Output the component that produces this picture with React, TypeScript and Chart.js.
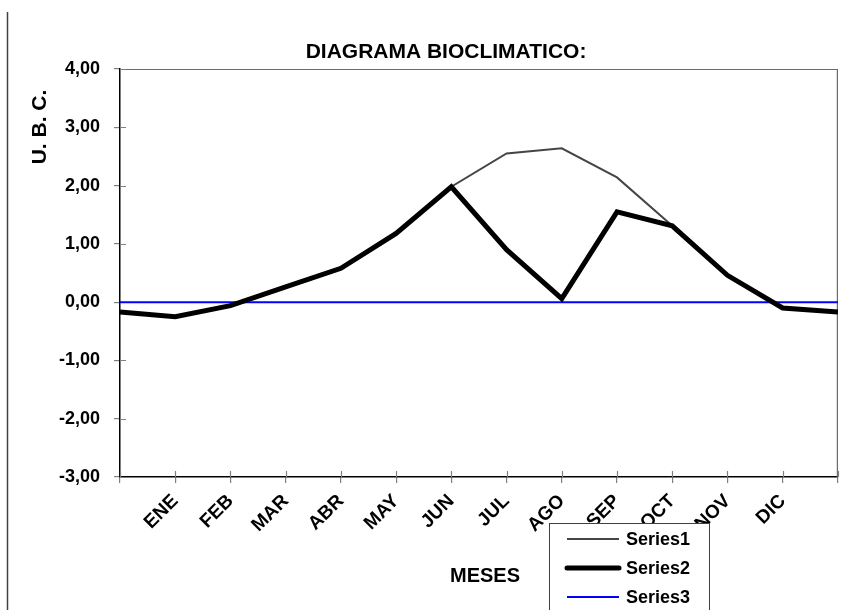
import React, { useEffect, useRef } from "react";
import { Chart, registerables } from "chart.js";

Chart.register(...registerables);

const categories = ["", "ENE", "FEB", "MAR", "ABR", "MAY", "JUN", "JUL", "AGO", "SEP", "OCT", "NOV", "DIC", ""];
const series1 = [-0.17, -0.25, -0.06, 0.26, 0.58, 1.18, 1.98, 2.55, 2.64, 2.14, 1.31, 0.46, -0.1, -0.17];
const series2 = [-0.17, -0.25, -0.06, 0.26, 0.58, 1.18, 1.98, 0.9, 0.06, 1.55, 1.31, 0.46, -0.1, -0.17];
const series3 = [0, 0, 0, 0, 0, 0, 0, 0, 0, 0, 0, 0, 0, 0];
const seriesNames = ["Series1", "Series2", "Series3"];
const yMin = -3;
const yMax = 4;
const chartTitle = "DIAGRAMA BIOCLIMATICO:";
const yTitle = "U. B. C.";
const xTitle = "MESES";

const FAMILY = '"Liberation Sans", Arial, sans-serif';

const decor = {
  id: "decor",
  beforeDraw(chart: any) {
    const ctx = chart.ctx;
    ctx.save();
    ctx.fillStyle = "#ffffff";
    ctx.fillRect(0, 0, chart.width, chart.height);
    ctx.restore();
  },
  beforeDatasetsDraw(chart: any) {
    const ctx = chart.ctx;
    const a = chart.chartArea;
    ctx.save();
    ctx.strokeStyle = "#6a6a6a";
    ctx.lineWidth = 1.2;
    ctx.beginPath();
    ctx.moveTo(a.left, a.top + 0.5);
    ctx.lineTo(a.right - 0.5, a.top + 0.5);
    ctx.lineTo(a.right - 0.5, a.bottom);
    ctx.stroke();
    ctx.strokeStyle = "#808080";
    ctx.lineWidth = 1.2;
    const xs = chart.scales.x;
    const ys = chart.scales.y;
    ctx.beginPath();
    xs.ticks.forEach((_t: any, i: number) => {
      const x = Math.round(xs.getPixelForTick(i)) + 0.5;
      ctx.moveTo(x, a.bottom);
      ctx.lineTo(x, a.bottom - 6);
    });
    ys.ticks.forEach((_t: any, i: number) => {
      const y = Math.round(ys.getPixelForTick(i)) + 0.5;
      ctx.moveTo(a.left, y);
      ctx.lineTo(a.left + 6, y);
    });
    ctx.stroke();
    ctx.restore();
  },
  afterDraw(chart: any) {
    const ctx = chart.ctx;
    ctx.save();
    ctx.strokeStyle = "#404040";
    ctx.lineWidth = 1.5;
    ctx.beginPath();
    ctx.moveTo(7.5, 12);
    ctx.lineTo(7.5, chart.height);
    ctx.stroke();

    ctx.fillStyle = "#000000";
    ctx.textAlign = "center";
    ctx.textBaseline = "middle";
    ctx.font = `bold 21px ${FAMILY}`;
    ctx.fillText(chartTitle, 446, 52);
    ctx.font = `bold 20px ${FAMILY}`;
    ctx.fillText(xTitle, 485, 576);
    ctx.save();
    ctx.translate(40, 127);
    ctx.rotate(-Math.PI / 2);
    ctx.font = `bold 21px ${FAMILY}`;
    ctx.fillText(yTitle, 0, 0);
    ctx.restore();

    const lx = 549, ly = 523, lw = 160, lh = 100;
    ctx.fillStyle = "#ffffff";
    ctx.fillRect(lx, ly, lw, lh);
    ctx.strokeStyle = "#404040";
    ctx.lineWidth = 1;
    ctx.strokeRect(lx + 0.5, ly + 0.5, lw, lh);
    const rows = [539, 568, 597];
    chart.data.datasets.forEach((ds: any, i: number) => {
      const y = rows[i];
      ctx.strokeStyle = ds.borderColor;
      ctx.lineWidth = ds.borderWidth;
      ctx.lineCap = i === 1 ? "round" : "butt";
      ctx.beginPath();
      ctx.moveTo(567, y);
      ctx.lineTo(619, y);
      ctx.stroke();
      ctx.fillStyle = "#000000";
      ctx.textAlign = "left";
      ctx.textBaseline = "middle";
      ctx.font = `bold 18px ${FAMILY}`;
      ctx.fillText(ds.label, 626, y + 1);
    });
    ctx.restore();
  },
};

export default function App() {
  const ref = useRef<HTMLCanvasElement>(null);
  useEffect(() => {
    if (!ref.current) return;
    const chart = new Chart(ref.current, {
      type: "line",
      data: {
        labels: categories,
        datasets: [
          { label: seriesNames[0], data: series1, borderColor: "#454545", borderWidth: 2, pointRadius: 0, tension: 0, order: 2, fill: false },
          { label: seriesNames[1], data: series2, borderColor: "#000000", borderWidth: 5, pointRadius: 0, tension: 0, order: 1, fill: false },
          { label: seriesNames[2], data: series3, borderColor: "#0000ff", borderWidth: 2, pointRadius: 0, tension: 0, order: 3, fill: false },
        ],
      },
      options: {
        animation: false,
        responsive: false,
        devicePixelRatio: 1,
        layout: { padding: { top: 69, right: 22, left: 0, bottom: 0 } },
        plugins: { legend: { display: false }, title: { display: false }, tooltip: { enabled: false } },
        scales: {
          x: {
            offset: false,
            afterFit: (s: any) => { s.height = 133; },
            grid: { display: true, drawOnChartArea: false, drawTicks: true, tickLength: 6, color: "#808080", lineWidth: 1.2 },
            border: { display: true, color: "#000000", width: 1.5 },
            ticks: {
              autoSkip: false,
              maxRotation: 45,
              minRotation: 45,
              padding: 7,
              color: "#000000",
              font: { family: FAMILY, size: 19, weight: "bold" },
            },
          },
          y: {
            min: yMin,
            max: yMax,
            afterFit: (s: any) => { s.width = 120; },
            grid: { display: true, drawOnChartArea: false, drawTicks: true, tickLength: 6, color: "#808080", lineWidth: 1.2 },
            border: { display: true, color: "#000000", width: 1.5 },
            ticks: {
              stepSize: 1,
              padding: 14,
              color: "#000000",
              font: { family: FAMILY, size: 18, weight: "bold" },
              callback: (v: any) => Number(v).toFixed(2).replace(".", ","),
            },
          },
        },
      },
      plugins: [decor],
    });
    return () => chart.destroy();
  }, []);
  return (
    <div style={{ position: "absolute", left: 0, top: 0, width: 861, height: 610 }}>
      <canvas ref={ref} width={861} height={610} style={{ display: "block" }} />
    </div>
  );
}
